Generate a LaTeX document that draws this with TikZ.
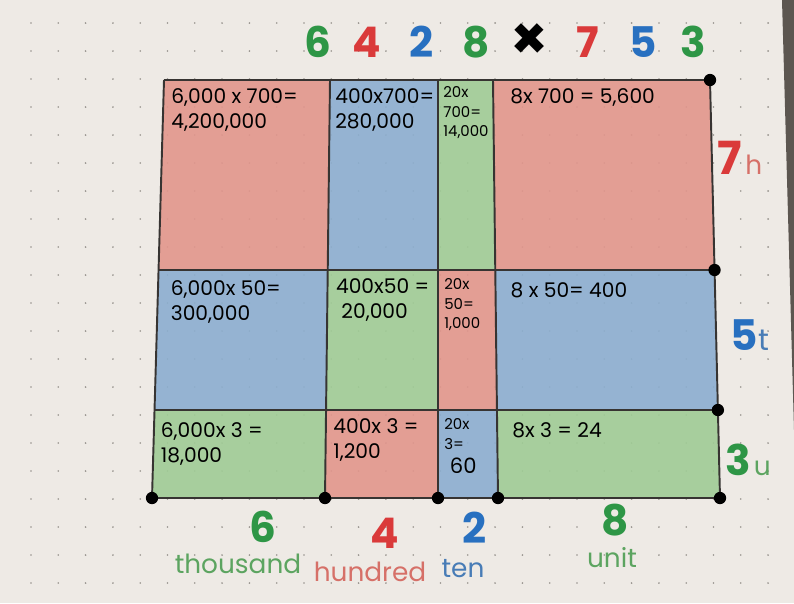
\documentclass[tikz,border=0pt]{standalone}
\usepackage{fontspec}
\setmainfont{Poppins}
\definecolor{paper}{RGB}{238,234,229}
\definecolor{dotgray}{RGB}{150,146,140}
\definecolor{ink}{RGB}{55,52,50}
\definecolor{redfill}{RGB}{226,150,140}
\definecolor{bluefill}{RGB}{140,174,208}
\definecolor{greenfill}{RGB}{160,204,150}
\definecolor{penred}{RGB}{218,58,58}
\definecolor{penblue}{RGB}{40,112,192}
\definecolor{pengreen}{RGB}{46,150,70}
\definecolor{softred}{RGB}{214,112,104}
\definecolor{softblue}{RGB}{72,124,182}
\definecolor{softgreen}{RGB}{92,164,96}
\definecolor{pageedge}{RGB}{92,86,80}
\begin{document}
\begin{tikzpicture}[x=0.02cm,y=-0.02cm,
  calc/.style={anchor=north west,align=left,inner sep=0pt,text=black,
    font=\fontsize{11.5}{14.5}\selectfont},
  narrow/.style={calc,font=\fontsize{8.5}{11.2}\selectfont},
  bigdigit/.style={inner sep=0pt,font=\fontsize{24}{24}\selectfont\bfseries},
  place/.style={inner sep=0pt,font=\fontsize{15}{15}\selectfont},
  corner/.style={circle,fill=black,inner sep=0pt,minimum size=7pt}]
\useasboundingbox (0,0) rectangle (794,603);
\fill[paper] (0,0) rectangle (794,603);
\fill[pageedge] (782,0) -- (794,0) -- (794,430) -- cycle;
\foreach \i in {0,...,27}
  \foreach \j in {0,...,21}
    \fill[dotgray] ({31+27.3*\i},{23+28*\j}) circle (0.9);

\foreach \c/\xt/\xb in {0/164/152,1/330/325,2/438/438,3/493/498,4/710/720}
  \foreach \r/\y in {0/80,1/270,2/410,3/498}
    \coordinate (p\r\c) at ({\xt+(\xb-\xt)*(\y-80)/418},\y);

\foreach \r/\c/\col in {0/0/redfill,0/1/bluefill,0/2/greenfill,0/3/redfill,
    1/0/bluefill,1/1/greenfill,1/2/redfill,1/3/bluefill,
    2/0/greenfill,2/1/redfill,2/2/bluefill,2/3/greenfill} {
  \pgfmathtruncatemacro\rr{\r+1}
  \pgfmathtruncatemacro\cc{\c+1}
  \fill[\col,fill opacity=0.9] (p\r\c) -- (p\r\cc) -- (p\rr\cc) -- (p\rr\c) -- cycle;
}
\foreach \r in {0,...,3}
  \draw[ink,line width=1.1pt] (p\r0) -- (p\r4);
\foreach \c in {0,...,4}
  \draw[ink,line width=1.1pt] (p0\c) -- (p3\c);
\foreach \p in {04,14,24,34,30,31,32,33}
  \node[corner] (dot\p) at (p\p) {};

\node[calc] (c00) at ([shift={(7,8)}]p00) {6,000 x 700=\\4,200,000};
\node[calc] (c01) at ([shift={(5,8)}]p01) {400x700=\\280,000};
\node[narrow] (c02) at ([shift={(5,6)}]p02) {20x\\700=\\14,000};
\node[calc] (c03) at ([shift={(17,8)}]p03) {8x 700 = 5,600};
\node[calc] (c10) at ([shift={(12,10)}]p10) {6,000x 50=\\300,000};
\node[calc] (c11) at ([shift={(8,8)}]p11) {400x50 =\\\ 20,000};
\node[narrow] (c12) at ([shift={(6,8)}]p12) {20x\\50=\\1,000};
\node[calc] (c13) at ([shift={(15,12)}]p13) {8 x 50= 400};
\node[calc] (c20) at ([shift={(6,12)}]p20) {6,000x 3 =\\18,000};
\node[calc] (c21) at ([shift={(7,8)}]p21) {400x 3 =\\1,200};
\node[narrow] (c22) at ([shift={(6,8)}]p22) {20x\\3=\\[3pt]{\fontsize{12}{12}\selectfont\ 60}};
\node[calc] (c23) at ([shift={(15,12)}]p23) {8x 3 = 24};

\foreach \t/\x/\col [count=\i] in {6/318/pengreen,4/367/penred,2/422/penblue,
    8/476/pengreen,{\fontsize{34}{34}\selectfont×}/530/black,7/588/penred,5/643/penblue,3/693/pengreen}
  \node[bigdigit,text=\col] (top\i) at (\x,42) {\t};

\node[inner sep=0pt] (hund) at (740,158)
  {\textcolor{penred}{\fontsize{26}{26}\selectfont\bfseries 7}\,\textcolor{softred}{\fontsize{15}{15}\selectfont h}};
\node[inner sep=0pt] (tens) at (750,335)
  {\textcolor{penblue}{\fontsize{24}{24}\selectfont\bfseries 5}\textcolor{softblue}{\fontsize{17}{17}\selectfont t}};
\node[inner sep=0pt] (unit) at (748,460)
  {\textcolor{pengreen}{\fontsize{24}{24}\selectfont\bfseries 3}\,\textcolor{softgreen}{\fontsize{15}{15}\selectfont u}};

\node[bigdigit,text=pengreen] (b6) at (263,527) {6};
\node[place,text=softgreen] (w6) at (238,564) {thousand};
\node[bigdigit,text=penred] (b4) at (385,533) {4};
\node[place,text=softred] (w4) at (370,572) {hundred};
\node[bigdigit,text=penblue] (b2) at (475,528) {2};
\node[place,text=softblue] (w2) at (463,569) {ten};
\node[bigdigit,text=pengreen] (b8) at (615,520) {8};
\node[place,text=softgreen] (w8) at (612,558) {unit};
\end{tikzpicture}
\end{document}
